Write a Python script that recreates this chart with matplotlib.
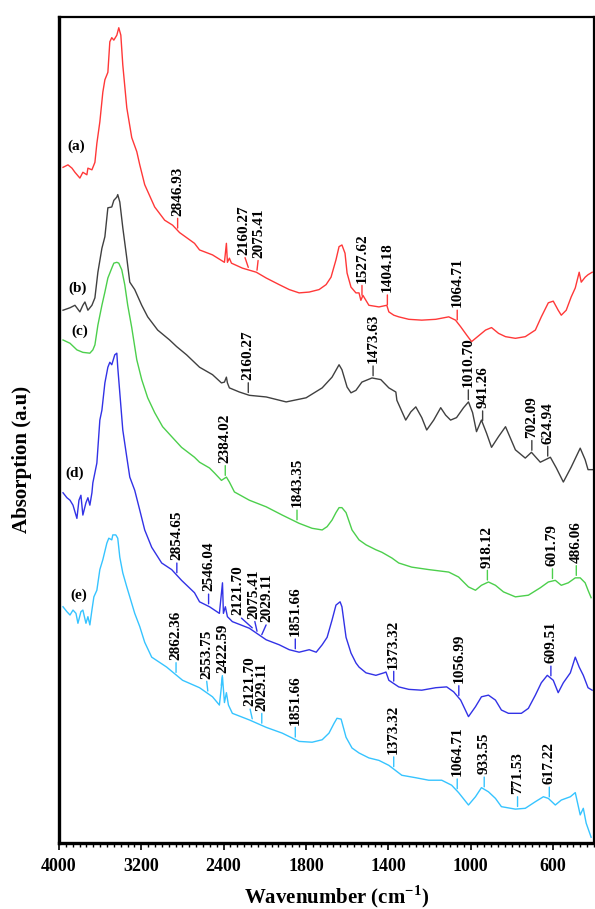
import numpy as np
import matplotlib
matplotlib.use("Agg")
import matplotlib.pyplot as plt

plt.rcParams['font.family'] = ['Liberation Serif', 'DejaVu Serif']
plt.rcParams['font.weight'] = 'bold'
plt.rcParams['mathtext.fontset'] = 'custom'
plt.rcParams['mathtext.rm'] = 'Liberation Serif:bold'
plt.rcParams['mathtext.bf'] = 'Liberation Serif:bold'

# ---- spectra (wavenumber in cm-1, absorption in a.u., stacked) ----
wn_a = [3961, 3913, 3874, 3845, 3797, 3768, 3729, 3719, 3680, 3651, 3632, 3603, 3574, 3554, 3525,
        3506, 3487, 3467, 3438, 3419, 3399, 3380, 3341, 3293, 3244, 3215, 3167, 3070, 2973, 2896,
        2828, 2683, 2634, 2508, 2392, 2373, 2363, 2344, 2324, 2218, 2082, 1993, 1930, 1881, 1833,
        1784, 1736, 1702, 1678, 1654, 1639, 1625, 1610, 1600, 1581, 1557, 1542, 1533, 1523, 1494,
        1445, 1407, 1397, 1373, 1349, 1300, 1237, 1169, 1106, 1073, 1048, 1019, 995, 961, 927,
        898, 864, 830, 782, 734, 685, 656, 622, 598, 574, 559, 535, 511, 491, 472,
        462, 443, 429, 409]
ab_a = [81.8, 82.1, 81.7, 81.2, 80.5, 81.2, 80.9, 81.7, 81.5, 82.4, 84.7, 87.3, 90.9, 92.4, 93.3,
        97.0, 97.5, 97.2, 97.8, 98.7, 97.8, 94.2, 89.0, 85.4, 83.7, 82.1, 79.7, 77.0, 75.4, 74.8,
        73.9, 72.6, 71.8, 71.2, 70.3, 72.6, 70.3, 70.8, 70.2, 69.6, 69.1, 68.4, 67.6, 67.0, 66.6,
        66.7, 67.0, 67.6, 68.5, 70.6, 72.2, 72.4, 71.4, 69.0, 67.3, 66.6, 66.6, 65.7, 66.3, 65.1,
        64.9, 65.1, 64.3, 63.9, 63.7, 63.4, 63.3, 63.4, 63.7, 63.3, 62.5, 61.5, 60.7, 61.4, 62.1,
        62.4, 61.7, 61.3, 61.1, 61.3, 62.1, 63.7, 65.4, 65.6, 64.5, 63.9, 64.5, 66.1, 67.2, 69.1,
        67.9, 68.5, 68.8, 69.1]

wn_b = [3961, 3893, 3845, 3797, 3768, 3748, 3719, 3680, 3651, 3622, 3583, 3554, 3525, 3487, 3467,
        3438, 3429, 3409, 3380, 3341, 3312, 3264, 3196, 3138, 3041, 2925, 2857, 2760, 2634, 2508,
        2421, 2392, 2373, 2363, 2344, 2247, 2150, 1993, 1896, 1799, 1721, 1673, 1639, 1625, 1600,
        1581, 1557, 1528, 1479, 1436, 1397, 1363, 1358, 1315, 1290, 1266, 1237, 1213, 1179, 1145,
        1121, 1097, 1068, 1034, 1010, 990, 971, 947, 922, 898, 864, 830, 806, 782, 734,
        704, 661, 612, 583, 549, 511, 467, 443, 429, 404]
ab_b = [64.5, 64.8, 65.1, 64.3, 65.1, 65.5, 64.5, 65.1, 66.0, 69.1, 72.0, 73.4, 76.9, 77.0, 77.8,
        78.2, 78.5, 77.6, 74.5, 70.8, 67.9, 67.0, 65.1, 63.7, 62.1, 60.9, 60.1, 59.1, 57.6, 56.7,
        55.7, 55.8, 56.4, 55.7, 55.1, 54.6, 54.2, 54.0, 53.4, 53.9, 55.1, 56.4, 57.9, 57.3, 55.2,
        54.5, 54.8, 55.8, 56.3, 56.1, 55.1, 54.6, 53.6, 51.2, 52.2, 52.8, 51.5, 50.0, 51.2, 52.7,
        51.8, 51.2, 51.5, 52.7, 53.4, 52.1, 49.8, 51.2, 49.6, 47.9, 49.2, 50.4, 49.0, 47.6, 46.6,
        47.3, 46.1, 46.7, 45.4, 43.7, 45.5, 47.8, 46.4, 45.2, 45.2]

wn_c = [3961, 3893, 3826, 3768, 3700, 3671, 3651, 3622, 3583, 3554, 3525, 3487, 3467, 3438, 3419,
        3390, 3361, 3332, 3293, 3244, 3196, 3138, 3070, 2993, 2905, 2809, 2683, 2634, 2537, 2489,
        2421, 2373, 2344, 2295, 2150, 1993, 1915, 1833, 1770, 1721, 1697, 1673, 1654, 1639, 1625,
        1605, 1576, 1542, 1508, 1460, 1431, 1382, 1349, 1286, 1203, 1106, 1058, 1010, 976, 947,
        913, 879, 840, 782, 719, 661, 622, 588, 559, 525, 491, 467, 443, 429, 414]
ab_c = [60.9, 60.5, 59.7, 59.4, 59.3, 59.7, 60.3, 62.7, 65.1, 66.7, 68.4, 69.6, 70.2, 70.3, 70.2,
        69.4, 67.6, 65.1, 62.4, 58.5, 56.1, 53.9, 52.1, 50.4, 49.2, 47.9, 46.7, 46.1, 45.4, 44.8,
        43.9, 44.3, 43.7, 42.5, 41.5, 40.7, 39.7, 38.7, 38.1, 37.9, 38.3, 39.1, 40.0, 40.6, 40.6,
        40.0, 37.9, 36.7, 36.1, 35.5, 35.2, 34.5, 33.9, 33.4, 33.1, 32.8, 32.2, 31.0, 30.6, 31.2,
        31.6, 31.2, 30.4, 29.8, 30.0, 30.9, 31.6, 31.8, 31.2, 31.5, 32.1, 32.1, 31.5, 30.6, 29.7]

wn_d = [3961, 3923, 3893, 3864, 3845, 3826, 3806, 3787, 3768, 3738, 3719, 3700, 3680, 3671, 3632,
        3603, 3583, 3554, 3525, 3506, 3487, 3458, 3438, 3429, 3409, 3380, 3341, 3312, 3264, 3215,
        3167, 3099, 3002, 2905, 2809, 2683, 2634, 2537, 2441, 2411, 2402, 2383, 2363, 2315, 2150,
        1993, 1930, 1881, 1833, 1784, 1750, 1721, 1697, 1673, 1654, 1634, 1625, 1605, 1581, 1557,
        1542, 1508, 1460, 1421, 1411, 1397, 1349, 1300, 1237, 1169, 1116, 1082, 1048, 1010, 976,
        947, 913, 879, 850, 816, 753, 719, 685, 656, 627, 598, 574, 549, 515, 491,
        472, 452, 429, 409]
ab_d = [42.4, 41.8, 41.5, 40.9, 40.1, 39.3, 41.5, 42.1, 39.7, 41.2, 41.8, 40.9, 42.4, 43.6, 46.0,
        51.2, 52.4, 55.7, 57.6, 58.2, 57.9, 59.1, 59.3, 57.6, 54.5, 50.0, 46.7, 44.3, 42.7, 40.3,
        37.9, 35.8, 33.9, 33.1, 31.8, 30.3, 29.2, 28.6, 27.8, 31.5, 27.8, 28.6, 27.4, 26.8, 26.0,
        24.6, 24.0, 23.4, 23.1, 23.4, 23.1, 24.0, 24.9, 27.0, 28.8, 29.2, 28.6, 24.9, 23.0, 21.8,
        21.3, 20.6, 20.3, 20.6, 20.7, 19.7, 18.9, 18.6, 18.5, 18.8, 18.9, 18.3, 17.3, 15.3, 16.5,
        17.7, 17.9, 17.3, 16.1, 15.7, 15.7, 16.3, 17.9, 19.4, 20.3, 19.7, 18.2, 19.4, 20.6, 22.5,
        21.3, 20.3, 18.8, 18.5]

wn_e = [3961, 3923, 3893, 3864, 3835, 3816, 3787, 3768, 3738, 3719, 3700, 3680, 3661, 3632, 3603,
        3574, 3535, 3516, 3487, 3477, 3448, 3429, 3409, 3380, 3341, 3312, 3264, 3215, 3167, 3099,
        2954, 2799, 2634, 2508, 2441, 2411, 2392, 2373, 2353, 2315, 2150, 1993, 1915, 1833, 1770,
        1721, 1688, 1663, 1649, 1629, 1605, 1576, 1542, 1494, 1445, 1397, 1334, 1266, 1203, 1140,
        1092, 1058, 1010, 976, 947, 913, 879, 850, 782, 734, 685, 646, 622, 588, 559,
        515, 491, 467, 452, 438, 414]
ab_e = [28.6, 28.0, 27.6, 28.2, 27.8, 26.6, 28.0, 28.2, 26.6, 27.4, 26.4, 28.2, 29.8, 30.6, 33.1,
        34.3, 36.3, 36.9, 36.7, 37.3, 37.3, 36.9, 34.6, 32.7, 31.0, 29.8, 27.8, 26.2, 24.3, 22.5,
        21.3, 19.7, 18.8, 17.7, 16.7, 20.1, 17.0, 18.2, 16.7, 15.7, 14.9, 14.0, 13.3, 12.3, 12.2,
        12.5, 13.3, 14.5, 15.1, 15.0, 12.8, 11.5, 10.9, 10.3, 10.0, 9.4, 8.2, 7.9, 7.6, 7.6,
        7.0, 6.1, 4.6, 5.6, 6.7, 6.2, 5.4, 4.4, 4.1, 4.2, 5.0, 5.6, 5.4, 4.6, 5.2,
        5.6, 6.1, 3.4, 4.2, 2.4, 0.7]

# ---- assigned band positions (cm-1) ----
peaks_a = [2846.93, 2160.27, 2075.41, 1527.62, 1404.18, 1064.71]
peaks_b = [2160.27, 1473.63, 1010.70, 941.26, 702.09, 624.94]
peaks_c = [2384.02, 1843.35, 918.12, 601.79, 486.06]
peaks_d = [2854.65, 2546.04, 2121.70, 2075.41, 2029.11, 1851.66, 1373.32, 1056.99, 609.51]
peaks_e = [2862.36, 2553.75, 2422.59, 2121.70, 2029.11, 1851.66, 1373.32, 1064.71, 933.55,
           771.53, 617.22]

sample_names = ["(a)", "(b)", "(c)", "(d)", "(e)"]
major_ticks = [4000, 3200, 2400, 1800, 1400, 1000, 600]

# ---- styling / layout ----
colors = ["#ff3838", "#404040", "#4ccf4c", "#3232e6", "#36c4ff"]
name_pos = [(3835, 84.4), (3816, 67.2), (3797, 61.9), (3845, 44.8), (3806, 30.0)]
# horizontal text shifts (points) where neighbouring labels would collide
label_shift = {(0, 2160.27): -3, (0, 2075.41): 1,
               (3, 2121.70): -10, (3, 2075.41): -2, (3, 2029.11): 4,
               (4, 2121.70): -2, (4, 2553.75): -1, (4, 2422.59): 1}


def fwd(w):
    w = np.asarray(w, dtype=float)
    return np.where(w > 2000, 2000 + (w - 2000) / 2.0, w)


def inv(f):
    f = np.asarray(f, dtype=float)
    return np.where(f > 2000, 2000 + (f - 2000) * 2.0, f)


fig = plt.figure(figsize=(5.95, 9.09), dpi=100)
ax = fig.add_axes([59 / 595, 1 - 843 / 909, (594 - 59) / 595, (843 - 17) / 909])
ax.set_xscale('function', functions=(fwd, inv))
ax.set_xlim(4000, 400)
ax.set_ylim(0, 100)

series = [(wn_a, ab_a, peaks_a), (wn_b, ab_b, peaks_b), (wn_c, ab_c, peaks_c),
          (wn_d, ab_d, peaks_d), (wn_e, ab_e, peaks_e)]

for i, (wn, ab, peaks) in enumerate(series):
    wn = np.asarray(wn, dtype=float)
    ab = np.asarray(ab, dtype=float)
    ax.plot(wn, ab, color=colors[i], lw=1.0)
    ax.text(name_pos[i][0], name_pos[i][1], sample_names[i], fontsize=11,
            fontweight='bold', ha='center', va='center')
    for v in peaks:
        yc = np.interp(v, wn[::-1], ab[::-1])
        dx = label_shift.get((i, v), 0)
        ax.annotate(f"{v:.2f}", xy=(v, yc + 0.3), xytext=(dx, 9),
                    textcoords='offset points', rotation=90, ha='center',
                    va='bottom', fontsize=11, fontweight='bold', color='black',
                    arrowprops=dict(arrowstyle='-', color=colors[i], lw=1.0,
                                    shrinkA=0, shrinkB=0, relpos=(0.5, 0.0)))

# ticks: labelled majors, 12 evenly spaced minors per major interval on the scaled axis
ax.xaxis.set_major_locator(matplotlib.ticker.FixedLocator(major_ticks))
ax.xaxis.set_major_formatter(matplotlib.ticker.FixedFormatter([str(t) for t in major_ticks]))
minor_f = np.arange(400, 3000 + 1e-6, 400 / 12.0)
ax.xaxis.set_minor_locator(matplotlib.ticker.FixedLocator(inv(minor_f)))
ax.tick_params(axis='x', which='major', direction='out', length=5, width=1.2,
               pad=6, labelsize=13)
ax.tick_params(axis='x', which='minor', direction='out', length=3, width=1.0)
ax.tick_params(axis='y', left=False, labelleft=False)
for lab in ax.get_xticklabels():
    lab.set_fontweight('bold')

for side in ['left', 'bottom']:
    ax.spines[side].set_linewidth(2.4)
for side in ['top', 'right']:
    ax.spines[side].set_linewidth(1.6)

fig.text(337 / 595, 1 - 897 / 909, r"Wavenumber (cm$^{\mathbf{-1}}$)", fontsize=15,
         fontweight='bold', ha='center', va='center')
fig.text(22 / 595, 1 - 459 / 909, "Absorption (a.u)", fontsize=15, fontweight='bold',
         rotation=90, ha='center', va='center')

fig.savefig("out.png", dpi=100)
